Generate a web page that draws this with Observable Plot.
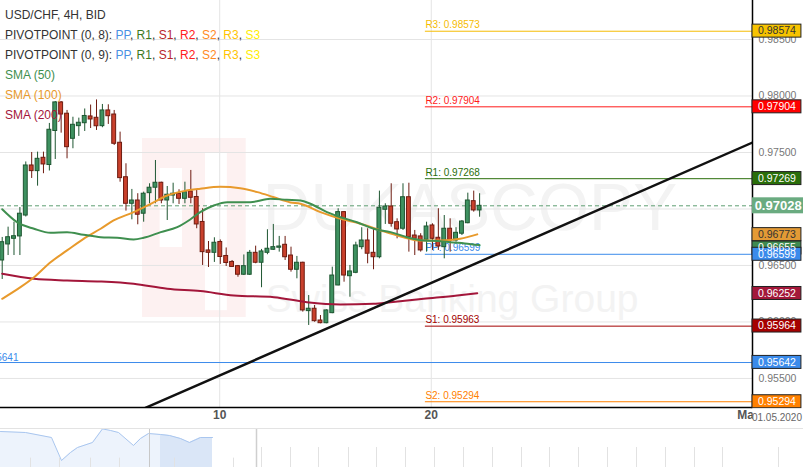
<!DOCTYPE html>
<html><head><meta charset="utf-8">
<script src="https://cdn.jsdelivr.net/npm/d3@7"></script>
<script src="https://cdn.jsdelivr.net/npm/@observablehq/plot@0.6"></script>
<style>
body{margin:0;background:#fff;}
#wrap{position:relative;width:803px;height:467px;overflow:hidden;font-family:"Liberation Sans",Arial,sans-serif;}
#legend{position:absolute;left:5px;top:5px;font-size:12px;line-height:20px;color:#333;pointer-events:none;white-space:nowrap;}
svg{display:block;}
</style></head><body>
<div id="wrap"><div id="chart"></div><div id="nav"></div><div id="legend"></div></div>
<script>
// ---- candle data (4H USD/CHF), index = candle number ----
const opens  = [0.96544,0.96686,0.96736,0.96757,0.96942,0.97385,0.97335,0.97453,0.97389,0.97690,0.97943,0.97843,0.97621,0.97733,0.97759,0.97819,0.97807,0.97733,0.97872,0.97836,0.97586,0.97281,0.97046,0.97075,0.96958,0.97140,0.97188,0.97232,0.97075,0.97119,0.97135,0.97090,0.97155,0.97106,0.96885,0.96633,0.96612,0.96708,0.96584,0.96531,0.96494,0.96418,0.96418,0.96612,0.96524,0.96612,0.96639,0.96657,0.96683,0.96588,0.96462,0.96524,0.96096,0.96117,0.96013,0.95989,0.96078,0.96323,0.96972,0.96405,0.96435,0.96662,0.96721,0.96612,0.96573,0.96993,0.97022,0.96883,0.96825,0.97104,0.96765,0.96757,0.96727,0.96854,0.96745,0.96662,0.96825,0.96721,0.96781,0.96874,0.97069,0.96987];
const highs  = [0.96748,0.96839,0.96883,0.97013,0.97416,0.97500,0.97503,0.97503,0.97757,0.97951,0.97951,0.97872,0.97812,0.97804,0.97885,0.97920,0.97965,0.97925,0.97922,0.97872,0.97680,0.97400,0.97173,0.97135,0.97149,0.97223,0.97429,0.97237,0.97199,0.97228,0.97170,0.97237,0.97341,0.97164,0.97002,0.96712,0.96745,0.96726,0.96655,0.96544,0.96500,0.96593,0.96633,0.96671,0.96642,0.96816,0.96863,0.96757,0.96757,0.96662,0.96580,0.96529,0.96234,0.96146,0.96057,0.96108,0.96485,0.97002,0.96978,0.96500,0.96706,0.96834,0.96825,0.96825,0.97158,0.97046,0.97223,0.96913,0.97223,0.97228,0.96810,0.96781,0.96883,0.96869,0.97002,0.96942,0.96913,0.96834,0.96898,0.97140,0.97158,0.97135];
const lows   = [0.96376,0.96588,0.96588,0.96588,0.96929,0.97270,0.97202,0.97312,0.97336,0.97438,0.97671,0.97444,0.97533,0.97642,0.97686,0.97712,0.97695,0.97719,0.97748,0.97562,0.97237,0.96981,0.96904,0.96860,0.96883,0.97046,0.97046,0.97046,0.96898,0.97046,0.97040,0.97046,0.97046,0.96825,0.96500,0.96482,0.96527,0.96509,0.96491,0.96482,0.96396,0.96411,0.96411,0.96515,0.96303,0.96595,0.96633,0.96618,0.96544,0.96441,0.96382,0.96087,0.95969,0.95998,0.95984,0.95984,0.96073,0.96320,0.96352,0.96219,0.96427,0.96639,0.96515,0.96462,0.96559,0.96863,0.96839,0.96736,0.96810,0.96618,0.96588,0.96618,0.96618,0.96633,0.96633,0.96559,0.96618,0.96706,0.96765,0.96869,0.96972,0.96927];
const closes = [0.96706,0.96750,0.96759,0.96958,0.97385,0.97335,0.97444,0.97394,0.97701,0.97943,0.97836,0.97547,0.97745,0.97763,0.97823,0.97792,0.97732,0.97872,0.97821,0.97577,0.97273,0.97046,0.97075,0.96949,0.97135,0.97188,0.97232,0.97075,0.97126,0.97135,0.97090,0.97149,0.97099,0.96863,0.96618,0.96612,0.96701,0.96575,0.96522,0.96487,0.96418,0.96494,0.96612,0.96524,0.96624,0.96648,0.96662,0.96668,0.96573,0.96462,0.96524,0.96102,0.96117,0.96007,0.95989,0.96102,0.96411,0.96972,0.96411,0.96447,0.96677,0.96721,0.96604,0.96573,0.97011,0.97022,0.96869,0.96819,0.97104,0.96750,0.96736,0.96633,0.96845,0.96736,0.96668,0.96825,0.96721,0.96789,0.96889,0.97075,0.96987,0.97028];

// ---- moving averages [candle index, value] ----
const sma50 = [[0,0.96997],[2.5,0.96883],[5.4,0.96825],[8.2,0.96789],[11,0.96795],[13.8,0.96772],[16.7,0.96750],[19.5,0.96745],[22.3,0.96730],[24,0.96745],[26.9,0.96795],[29.7,0.96839],[31.9,0.96907],[33.6,0.96972],[35.9,0.97031],[38.2,0.97060],[42.1,0.97060],[45.5,0.97090],[48.3,0.97081],[50.6,0.97075],[52.3,0.97046],[55.1,0.96972],[57.4,0.96927],[60.2,0.96883],[63,0.96825],[65.9,0.96795],[68.7,0.96750],[71.5,0.96721],[74.4,0.96715],[76,0.96706],[78.5,0.96695],[81,0.96680]];
const sma100 = [[0,0.96205],[3.1,0.96308],[5.4,0.96396],[8.2,0.96529],[11,0.96633],[13.8,0.96736],[16.7,0.96825],[18.9,0.96898],[22.3,0.96972],[25.2,0.97046],[28,0.97119],[30.8,0.97158],[33.6,0.97179],[37,0.97196],[40.4,0.97183],[43.3,0.97149],[46.1,0.97104],[48.9,0.97058],[50.6,0.97046],[54,0.96972],[57.4,0.96913],[60.8,0.96869],[64.2,0.96810],[67.6,0.96757],[71,0.96721],[74.4,0.96721],[77.7,0.96736],[80.6,0.96775]];
const sma200 = [[0,0.96427],[5.4,0.96382],[11,0.96367],[16.7,0.96358],[22.3,0.96338],[28,0.96294],[33.6,0.96273],[39.3,0.96234],[46.1,0.96219],[51.7,0.96175],[57.4,0.96155],[63,0.96161],[65.9,0.96175],[71.5,0.96205],[77.2,0.96234],[80.6,0.96255]];
const trendLine = [[24.3,0.95240],[127.3,0.97588]];

// ---- pivot levels ----
const pivotNames  = ["R3","R2","R1","PP","S1","S2"];
const pivotValues = [0.98573,0.97904,0.97268,0.96599,0.95963,0.95294];
const pivotColors = ["#f5bb00","#ff1a1a","#2a6e0a","#3b8beb","#a30000","#ff8000"];
const pivotStart = 71.8;
const oldLevel = 0.95641;
const currentPrice = 0.97028;

// ---- right axis value boxes ----
const boxValues = [0.96655,0.98574,0.97904,0.97269,0.96773,0.96599,0.96252,0.95964,0.95642,0.95294];
const boxFills  = ["#3f8a50","#f7c300","#ff0000","#2a6e0a","#e39a35","#3b8beb","#a3183a","#a50000","#3b8beb","#ff8000"];
const boxInk    = ["#fff","#333","#fff","#fff","#333","#fff","#fff","#fff","#fff","#fff"];

// ---- axes ----
const yTicks = [0.955,0.96,0.965,0.97,0.975,0.98,0.985];
const xTickPos = [36.9,72.8,126.7];
const xTickLabels = ["10","20","May"];
const xGrid = [36.9,72.8];
const endDateLabel = "01.05.2020";

// ---- legend ----
const legendTitle = "USD/CHF, 4H, BID";
const pivotLegendNames = ["PP","R1","S1","R2","S2","R3","S3"];
const pivotLegendColors = ["#4a90e2","#3d7a1f","#b8262b","#ff2020","#ff8a1f","#ffc400","#ffee00"];
const pivotSets = ["PIVOTPOINT (0, 8): ","PIVOTPOINT (0, 9): "];
const smaNames = ["SMA (50)","SMA (100)","SMA (200)"];
const smaColors = ["#3f8f4f","#e89a2c","#a3163a"];

// ---- navigator ----
const navX = [0,25,51,61,70,77,92,102,110,118,133,140,148,160,169,180,189,200,212];
const navV = [0.98615,0.98487,0.97846,0.94897,0.95923,0.96564,0.97205,0.98950,0.98744,0.98487,0.96821,0.97718,0.98359,0.98231,0.98103,0.97718,0.97205,0.97846,0.97846];
const navTicksShort = [30,59,90,119,174,233];
const navTicksLong = [261,290,318,348,376,405,434,463,492,521,549,578,607,636,665,694,722,778];
const navWindow = [149,212];
const navMarker = 256;

// ---- watermark ----
const logoBox = {x1:23.8,x2:41.4,y1:0.96040,y2:0.97624};
const logoCuts = [{x1:26.8,x2:30.6,y1:0.96659,y2:0.97358},{x1:34.5,x2:38.2,y1:0.96100,y2:0.97500}];
const wmText = [{i:44.2,v:0.9681,t:"DUKASCOPY",s:66,w:"bold"},{i:44.7,v:0.96084,t:"Swiss Banking Group",s:39,w:"normal"}];

const X_MIN = -0.29, X_MAX = 127.3, Y_MIN = 0.95243, Y_MAX = 0.98845;
const VAL_PER_PX = (Y_MAX - Y_MIN) / 407;

const candles = opens.map((o,i)=>({i,o,h:highs[i],l:lows[i],c:closes[i]}));
const isUp = d => d.c >= d.o;
const pts = a => a.map(([i,v])=>({i,v}));
const pivots = pivotNames.map((n,k)=>({n,v:pivotValues[k],col:pivotColors[k]}));
const boxes = boxValues.map((v,k)=>({v,fill:boxFills[k],ink:boxInk[k]}));
const xLabel = new Map(xTickPos.map((p,k)=>[p,xTickLabels[k]]));

const chart = Plot.plot({
  width: 803, height: 428,
  marginTop: 0, marginRight: 51, marginBottom: 21, marginLeft: 0,
  x: {type:"linear", domain:[X_MIN, X_MAX], axis:null},
  y: {type:"linear", domain:[Y_MIN, Y_MAX], axis:null},
  style: {fontFamily:"Liberation Sans, Arial, sans-serif", fontSize:"11px", background:"#fff"},
  marks: [
    // watermark
    Plot.rect([logoBox], {x1:"x1",x2:"x2",y1:"y1",y2:"y2",fill:"#fdf1f1"}),
    Plot.rect(logoCuts, {x1:"x1",x2:"x2",y1:"y1",y2:"y2",fill:"#fff"}),
    Plot.text(wmText, {x:"i",y:"v",text:"t",fontSize:d=>d.s,fontWeight:d=>d.w,textAnchor:"start",lineAnchor:"bottom",fill:"#f3f3f3"}),
    // grid
    Plot.ruleY(yTicks, {stroke:"#e4e4e4"}),
    Plot.ruleX(xGrid, {stroke:"#e4e4e4"}),
    // current price
    Plot.ruleY([currentPrice], {stroke:"#5f9f73", strokeDasharray:"4,3"}),
    // pivots
    Plot.ruleY(pivots, {y:"v", x1:pivotStart, x2:X_MAX, stroke:"col"}),
    Plot.text(pivots, {x:pivotStart, y:"v", text:d=>`${d.n}: ${d.v.toFixed(5)}`, fill:"col", textAnchor:"start", dy:-6, fontSize:10}),
    Plot.ruleY([oldLevel], {stroke:"#3b8beb"}),
    Plot.text([oldLevel], {x:X_MIN, y:d=>d, text:d=>d.toFixed(5), fill:"#3b8beb", textAnchor:"end", dx:18, dy:-5, fontSize:10}),
    // candles
    Plot.ruleX(candles, {x:"i", y1:"l", y2:"h", stroke:d=>isUp(d)?"#1e5631":"#6e1b10", strokeWidth:1}),
    Plot.rect(candles, {x1:d=>d.i-0.33, x2:d=>d.i+0.33, y1:"o", y2:"c", fill:d=>isUp(d)?"#3e9160":"#c9402c", stroke:d=>isUp(d)?"#1e5631":"#6e1b10", strokeWidth:1}),
    // moving averages
    Plot.line(pts(sma200), {x:"i", y:"v", stroke:smaColors[2], strokeWidth:2, curve:"monotone-x"}),
    Plot.line(pts(sma100), {x:"i", y:"v", stroke:smaColors[1], strokeWidth:2, curve:"monotone-x"}),
    Plot.line(pts(sma50), {x:"i", y:"v", stroke:smaColors[0], strokeWidth:2, curve:"monotone-x"}),
    // trend line
    Plot.line(pts(trendLine), {x:"i", y:"v", stroke:"#111", strokeWidth:2.5, clip:true}),
    // frame lines
    Plot.ruleX([X_MAX], {stroke:"#000", strokeWidth:1.5}),
    Plot.ruleY([Y_MIN], {x1:X_MIN, x2:X_MAX, stroke:"#000", strokeWidth:1.5}),
    // axes
    Plot.axisY(yTicks, {anchor:"right", tickSize:0, tickPadding:6, tickFormat:d3.format(".5f"), fontSize:10.5, color:"#777"}),
    Plot.axisX(xTickPos, {anchor:"bottom", tickSize:0, tickPadding:3, tickFormat:d=>xLabel.get(d), fontSize:12, fontWeight:"bold", color:"#555"}),
    // value boxes
    Plot.rect(boxes, {x1:X_MAX, x2:X_MAX+8.3, y1:d=>d.v-6.5*VAL_PER_PX, y2:d=>d.v+6.5*VAL_PER_PX, fill:"fill", stroke:"#222", strokeWidth:1}),
    Plot.text(boxes, {x:X_MAX+4.15, y:"v", text:d=>d.v.toFixed(5), fill:"ink", fontSize:10.5}),
    Plot.rect([currentPrice], {x1:X_MAX, x2:X_MAX+8.7, y1:d=>d-8*VAL_PER_PX, y2:d=>d+8*VAL_PER_PX, fill:"#6aab80"}),
    Plot.text([currentPrice], {x:X_MAX+4.35, y:d=>d, text:d=>d.toFixed(5), fill:"#fff", fontSize:13, fontWeight:"bold"}),
    // end date label on white background
    Plot.rect([endDateLabel], {x1:X_MAX+0.13, x2:X_MAX+8.7, y1:Y_MIN-1.5*VAL_PER_PX, y2:Y_MIN-20*VAL_PER_PX, fill:"#fff"}),
    Plot.text([endDateLabel], {x:X_MAX+4.15, y:Y_MIN, text:d=>d, dy:10, fontSize:10, fill:"#666"})
  ]
});
document.getElementById("chart").append(chart);

// navigator
const navData = navX.map((x,k)=>({x,v:navV[k]}));
const nav = Plot.plot({
  width:803, height:39, margin:0,
  x:{domain:[0,803], axis:null},
  y:{domain:[0.94,0.99], axis:null},
  style:{background:"#fff"},
  marks:[
    Plot.areaY(navData, {x:"x", y1:0.94, y2:"v", fill:"#edf3fc"}),
    Plot.areaY(navData.filter(d=>d.x>=navWindow[0]), {x:"x", y1:0.94, y2:"v", fill:"#dae6f7"}),
    Plot.lineY(navData, {x:"x", y:"v", stroke:"#a9c6ef", strokeWidth:1}),
    Plot.ruleX(navTicksShort, {y1:0.94, y2:0.952, stroke:"#e2e2e2"}),
    Plot.ruleX(navTicksLong, {y1:0.94, y2:0.9656, stroke:"#e2e2e2"}),
    Plot.ruleX([navWindow[0]], {stroke:"#c8c8c8"}),
    Plot.ruleX([navMarker], {stroke:"#cfcfcf", strokeWidth:1.5}),
    Plot.ruleY([0.99], {stroke:"#e3e3e3"})
  ]
});
document.getElementById("nav").append(nav);

// legend
const lg = document.getElementById("legend");
let html = `<div>${legendTitle}</div>`;
for (const s of pivotSets) {
  html += `<div>${s}` + pivotLegendNames.map((n,k)=>`<span style="color:${pivotLegendColors[k]}">${n}</span>`).join(", ") + `</div>`;
}
smaNames.forEach((n,k)=>{ html += `<div style="color:${smaColors[k]}">${n}</div>`; });
lg.innerHTML = html;
</script>
</body></html>
